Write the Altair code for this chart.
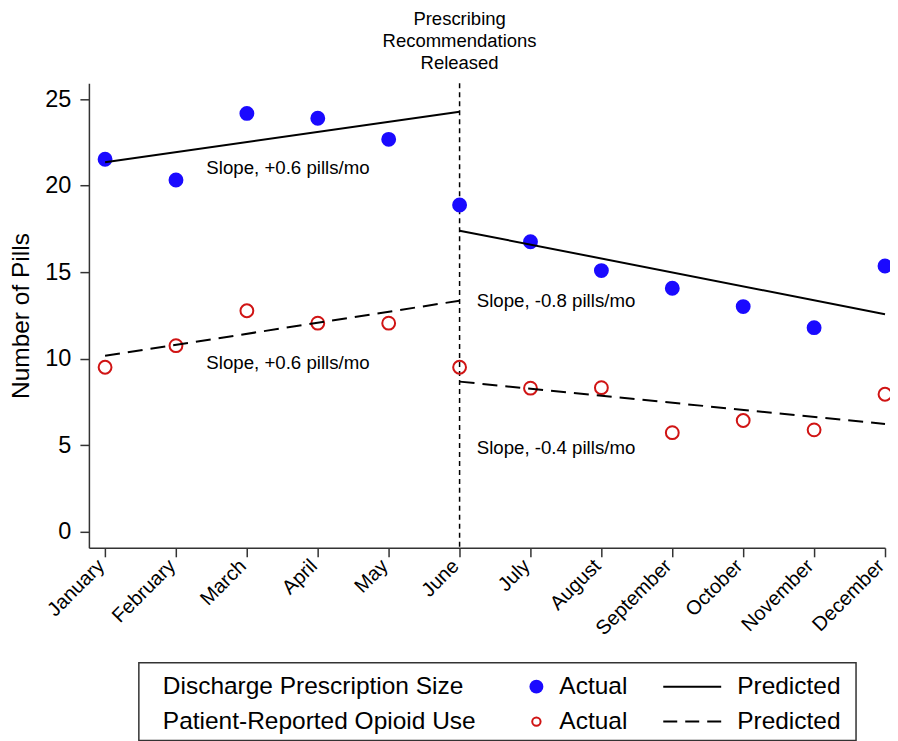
import json
import pandas as pd
import altair as alt

# ---------------- data ----------------
months = ["January", "February", "March", "April", "May", "June", "July",
          "August", "September", "October", "November", "December"]
month_idx = list(range(12))
rx_actual = [21.53, 20.33, 24.18, 23.90, 22.68, 18.88, 16.76, 15.09, 14.07, 13.01, 11.79, 15.36]
use_actual = [9.50, 10.75, 12.77, 12.05, 12.05, 9.50, 8.29, 8.32, 5.72, 6.42, 5.88, 7.94]
seg_names = ["pre", "post"]
seg_months = [[0, 5], [5, 11]]
rx_pred = [[21.35, 24.28], [17.40, 12.57]]
use_pred = [[10.16, 13.35], [8.67, 6.22]]
release_month = 5
release_label = ["Prescribing", "Recommendations", "Released"]
slope_labels = ["Slope, +0.6 pills/mo", "Slope, -0.8 pills/mo",
                "Slope, +0.6 pills/mo", "Slope, -0.4 pills/mo"]
slope_month = [2.58, 6.36, 2.58, 6.36]
slope_value = [21.0, 13.34, 9.77, 4.82]
series_names = ["Discharge Prescription Size", "Patient-Reported Opioid Use"]
y_ticks = [0, 5, 10, 15, 20, 25]

# ---------------- styling ----------------
FONT = "Liberation Sans"
BLUE = "#1a0aff"
RED = "#d01414"
AXIS_COLOR = "#333333"
X_DOMAIN = [-0.228, 11.0]
Y_DOMAIN = [-0.94, 25.92]
W, H = 797, 465

x_axis = alt.Axis(values=month_idx, labelExpr=f"{json.dumps(months)}[datum.value]",
                  labelAngle=-45, labelAlign="right", labelBaseline="alphabetic", labelOverlap=False,
                  labelFontSize=20, labelPadding=10, tickSize=9, title=None, grid=False,
                  domainColor=AXIS_COLOR, domainWidth=1.5, tickColor=AXIS_COLOR, tickWidth=1.5,
                  labelColor="black")
y_axis = alt.Axis(values=y_ticks, labelFontSize=23.5, labelPadding=9, tickSize=9, labelOverlap=False,
                  title="Number of Pills", titleFontSize=24.5, titleFontWeight="normal",
                  titlePadding=11, titleColor="black", grid=False,
                  domainColor=AXIS_COLOR, domainWidth=1.5, tickColor=AXIS_COLOR, tickWidth=1.5,
                  labelColor="black")


def X():
    return alt.X("month:Q", scale=alt.Scale(domain=X_DOMAIN, nice=False, zero=False), axis=x_axis)


def Y():
    return alt.Y("value:Q", scale=alt.Scale(domain=Y_DOMAIN, nice=False, zero=False), axis=y_axis)


actual_df = pd.DataFrame({"month": month_idx, "rx": rx_actual, "use": use_actual})
rx_df = actual_df.rename(columns={"rx": "value"})[["month", "value"]]
use_df = actual_df.rename(columns={"use": "value"})[["month", "value"]]

pred_rows = []
for s, name in enumerate(seg_names):
    for k in range(2):
        pred_rows.append({"seg": name, "month": seg_months[s][k],
                          "rx": rx_pred[s][k], "use": use_pred[s][k]})
pred_df = pd.DataFrame(pred_rows)

release_df = pd.DataFrame({"month": [release_month], "value": [Y_DOMAIN[1]],
                           "text": ["\n".join(release_label)]})
slope_df = pd.DataFrame({"month": slope_month, "value": slope_value, "text": slope_labels})

release_rule = alt.Chart(release_df).mark_rule(
    color="black", strokeWidth=1.5, strokeDash=[5, 4]).encode(x=X())
release_text = alt.Chart(release_df).mark_text(
    lineBreak="\n", align="center", baseline="top", fontSize=18.5, lineHeight=22,
    dy=-73, color="black").encode(x=X(), y=Y(), text="text:N")

rx_points = alt.Chart(rx_df).mark_point(
    filled=True, shape="circle", size=222, color=BLUE, opacity=1).encode(x=X(), y=Y())
use_points = alt.Chart(use_df).mark_point(
    filled=False, shape="circle", size=165, color=RED, strokeWidth=2, opacity=1).encode(x=X(), y=Y())

rx_line = alt.Chart(pred_df).transform_calculate(value="datum.rx").mark_line(
    color="black", strokeWidth=2).encode(x=X(), y=Y(), detail="seg:N")
use_line = alt.Chart(pred_df).transform_calculate(value="datum.use").mark_line(
    color="black", strokeWidth=2, strokeDash=[15, 8]).encode(x=X(), y=Y(), detail="seg:N")

slope_text = alt.Chart(slope_df).mark_text(
    align="center", baseline="middle", fontSize=18.7, color="black").encode(
    x=X(), y=Y(), text="text:N")

main = alt.layer(release_rule, release_text, rx_points, use_points, rx_line, use_line,
                 slope_text).properties(width=W, height=H)

# ---------------- legend (drawn below the plot) ----------------
LEG_W, LEG_H = 718, 78
leg_df = pd.DataFrame({"row": [0, 1], "name": series_names,
                       "actual": ["Actual", "Actual"], "pred": ["Predicted", "Predicted"]})
row_y = alt.Y("row:O", scale=alt.Scale(type="point", range=[24, 59], padding=0), axis=None)
leg_base = alt.Chart(leg_df)
leg_names = leg_base.mark_text(align="left", baseline="middle", fontSize=24.5, color="black").encode(
    x=alt.value(24), y=row_y, text="name:N")
leg_actual = leg_base.mark_text(align="left", baseline="middle", fontSize=24.5, color="black").encode(
    x=alt.value(421), y=row_y, text="actual:N")
leg_pred = leg_base.mark_text(align="left", baseline="middle", fontSize=24.5, color="black").encode(
    x=alt.value(599), y=row_y, text="pred:N")
leg_dot = leg_base.transform_filter("datum.row == 0").mark_point(
    filled=True, shape="circle", size=195, color=BLUE, opacity=1).encode(x=alt.value(398), y=row_y)
leg_ring = leg_base.transform_filter("datum.row == 1").mark_point(
    filled=False, shape="circle", size=70, color=RED, strokeWidth=2, opacity=1).encode(x=alt.value(398), y=row_y)
leg_solid = leg_base.transform_filter("datum.row == 0").mark_rule(
    color="black", strokeWidth=2).encode(x=alt.value(525), x2=alt.value(583), y=row_y)
leg_dash = leg_base.transform_filter("datum.row == 1").mark_rule(
    color="black", strokeWidth=2, strokeDash=[14, 8]).encode(x=alt.value(525), x2=alt.value(583), y=row_y)

legend = alt.layer(leg_names, leg_actual, leg_pred, leg_dot, leg_ring, leg_solid, leg_dash).properties(
    width=LEG_W, height=LEG_H, view=alt.ViewBackground(stroke=AXIS_COLOR, strokeWidth=1.5))

spacer = alt.Chart(pd.DataFrame({"s": [0]})).mark_point(opacity=0, size=0).encode(
    x=alt.X("s:Q", axis=None), y=alt.Y("s:Q", axis=None)).properties(width=1, height=LEG_H)

chart = alt.vconcat(
    main,
    alt.hconcat(spacer, legend, spacing=48),
    spacing=22,
).properties(
    padding={"left": 0, "top": 2, "right": -6, "bottom": 0}
).configure(font=FONT).configure_view(strokeWidth=0)

chart.save("out.html", embed_options={"renderer": "svg", "actions": False})
